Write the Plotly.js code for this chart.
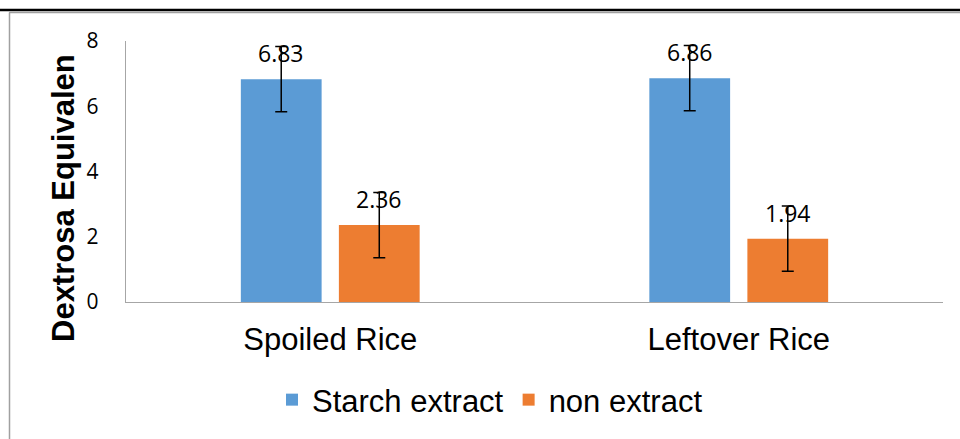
<!DOCTYPE html>
<html>
<head>
<meta charset="utf-8">
<script src="https://cdn.plot.ly/plotly-3.0.1.min.js"></script>
<style>html,body{margin:0;padding:0;background:#fff;}#chart{width:960px;height:439px;}</style>
</head>
<body>
<div id="chart"></div>
<script>
var categories = ["Spoiled Rice", "Leftover Rice"];
var seriesNames = ["Starch extract", "non extract"];
var starchValues = [6.83, 6.86];
var nonValues = [2.36, 1.94];
var starchErrors = [1.0, 1.0];
var nonErrors = [1.0, 1.0];
var yTickValues = [0, 2, 4, 6, 8];
var yTitle = "Dextrosa Equivalen";

var W = 960, H = 439;
var M = {l: 126, r: 17, t: 41, b: 137};
var PW = W - M.l - M.r, PH = H - M.t - M.b;
function px(X) { return (X - M.l) / PW; }
function py(Y) { return (H - M.b - Y) / PH; }

var bargap = 0.52, bargroupgap = 0.176;
var off = (1 - bargap) / 4;

var blue = "#5B9BD5", orange = "#ED7D31", axisGray = "#A6A6A6";

var errStyle = {type: "data", visible: true, color: "#000", thickness: 1.5, width: 6};

var traces = [
  {type: "bar", name: seriesNames[0], x: categories, y: starchValues,
   marker: {color: blue}, error_y: Object.assign({array: starchErrors}, errStyle)},
  {type: "bar", name: seriesNames[1], x: categories, y: nonValues,
   marker: {color: orange}, error_y: Object.assign({array: nonErrors}, errStyle)}
];

var annotations = [];
[starchValues, nonValues].forEach(function (vals, s) {
  vals.forEach(function (v, i) {
    annotations.push({
      xref: "x", yref: "y", x: i + (s === 0 ? -off : off), y: v,
      text: v.toFixed(2), showarrow: false, yanchor: "middle", yshift: 26,
      font: {family: "Open Sans", size: 23, color: "#000"}
    });
  });
});
annotations.push({
  xref: "paper", yref: "paper", x: px(63), y: py(198),
  text: "<b>" + yTitle + "</b>", textangle: -90, showarrow: false,
  xanchor: "center", yanchor: "middle",
  font: {family: "Liberation Sans, Arial", size: 31, color: "#000"}
});

var shapes = [
  {type: "line", xref: "paper", yref: "paper", x0: px(0), x1: px(960), y0: py(10), y1: py(10),
   line: {color: "#000", width: 2.5}},
  {type: "line", xref: "paper", yref: "paper", x0: px(9), x1: px(960), y0: py(12.5), y1: py(12.5),
   line: {color: "#A0A0A0", width: 1.5}},
  {type: "line", xref: "paper", yref: "paper", x0: px(9.5), x1: px(9.5), y0: py(12.5), y1: py(439),
   line: {color: "#A0A0A0", width: 1.5}}
];

var layout = {
  width: W, height: H,
  margin: M,
  paper_bgcolor: "#fff", plot_bgcolor: "#fff",
  barmode: "group", bargap: bargap, bargroupgap: bargroupgap,
  showlegend: true,
  legend: {orientation: "h", x: px(490), xanchor: "center", y: py(400), yanchor: "middle",
           font: {family: "Liberation Sans, Arial", size: 31, color: "#000"},
           bgcolor: "rgba(0,0,0,0)"},
  xaxis: {type: "category", showline: true, linecolor: axisGray, linewidth: 1.3,
          ticks: "", showgrid: false, zeroline: false, ticklabelstandoff: 9,
          tickfont: {family: "Liberation Sans, Arial", size: 31, color: "#000"}},
  yaxis: {range: [0, 8], tickvals: yTickValues, showline: true, linecolor: axisGray, linewidth: 1.3,
          ticks: "", showgrid: false, zeroline: false, ticklabelstandoff: 22,
          tickfont: {family: "Open Sans", size: 21, color: "#000"}},
  annotations: annotations,
  shapes: shapes
};

Plotly.newPlot("chart", traces, layout, {displayModeBar: false, staticPlot: true});
</script>
</body>
</html>
